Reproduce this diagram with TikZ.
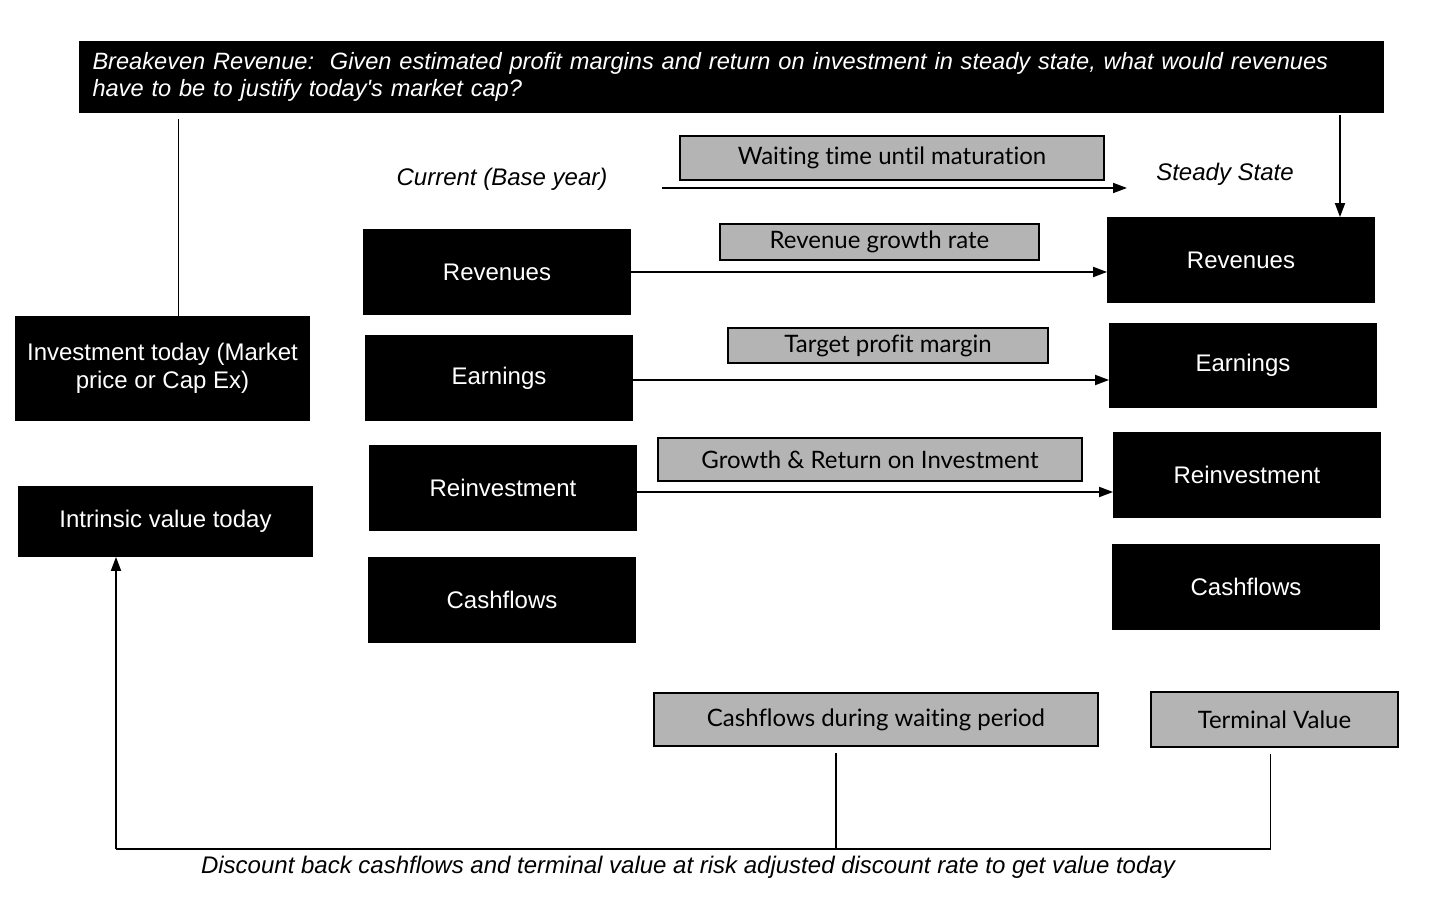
\documentclass[tikz,border=0pt]{standalone}
\usepackage{fontspec}
\setmainfont{Liberation Sans}
\newfontfamily\greyfont[Ligatures={NoCommon,NoContextual}]{Lato}
\usetikzlibrary{arrows.meta}
\definecolor{boxgrey}{HTML}{B4B4B4}
\tikzset{
  >={Triangle[length=7pt,width=5pt]},
  blackbox/.style={draw=black,fill=black,text=white,minimum width=133pt,minimum height=42pt,inner sep=2pt,font=\fontsize{12}{14}\selectfont},
  greybox/.style={draw=black,fill=boxgrey,line width=0.8pt,inner sep=1pt,font=\greyfont\fontsize{12}{14}\selectfont},
  note/.style={font=\itshape\fontsize{12}{14}\selectfont}
}
\begin{document}
\begin{tikzpicture}[x=0.5pt,y=-0.5pt,line width=0.9pt]
\useasboundingbox (0,0) rectangle (1448,908);
% header
\node[draw,fill=black,text=white,minimum width=651.5pt,minimum height=35pt,text width=639pt,inner xsep=6pt,inner ysep=2pt,align=left,font=\itshape\fontsize{11.8}{13.5}\selectfont] (title) at (731.5,77) {Breakeven Revenue:\ \ Given estimated profit margins and return on investment in steady state, what would revenues\\have to be to justify today\textquotesingle s market cap?};
\node[note] (cur) at (502,179) {Current (Base year)};
\node[note] (ss) at (1225,174) {Steady State};
\node[greybox,minimum width=212pt,minimum height=22pt] (wait) at (892,158) {Waiting time until maturation};
\coordinate (wS) at (662,188);
\coordinate (wE) at (1127,188);
\draw[->] (wS) -- (wE);
% left column
\node[blackbox,minimum width=146.5pt,minimum height=51.5pt,align=center] (inv) at (162.5,368.5) {Investment today (Market\\price or Cap Ex)};
\node[blackbox,minimum width=146.5pt,minimum height=34.5pt] (intr) at (165.5,521.5) {Intrinsic value today};
% base year
\node[blackbox] (lRev) at (497,272) {Revenues};
\node[blackbox] (lEarn) at (499,378) {Earnings};
\node[blackbox] (lReinv) at (503,488) {Reinvestment};
\node[blackbox] (lCash) at (502,600) {Cashflows};
% steady state
\node[blackbox] (rRev) at (1241,260) {Revenues};
\node[blackbox] (rEarn) at (1243,365.5) {Earnings};
\node[blackbox] (rReinv) at (1247,475) {Reinvestment};
\node[blackbox] (rCash) at (1246,587) {Cashflows};
% drivers
\node[greybox,minimum width=159.5pt,minimum height=18pt] (rgr) at (879.5,242) {Revenue growth rate};
\node[greybox,minimum width=160pt,minimum height=17.5pt] (tpm) at (888,345.5) {Target profit margin};
\node[greybox,minimum width=212pt,minimum height=21.5pt] (gri) at (870,459.5) {Growth \& Return on Investment};
\draw[->] (lRev.east) -- (lRev.east -| rRev.west);
\draw[->] ([yshift=-1pt]lEarn.east) -- ([yshift=-1pt]lEarn.east -| rEarn.west);
\draw[->] ([yshift=-2pt]lReinv.east) -- ([yshift=-2pt]lReinv.east -| rReinv.west);
% value
\node[greybox,minimum width=222pt,minimum height=26.5pt] (cwp) at (876,719.5) {Cashflows during waiting period};
\node[greybox,minimum width=123.5pt,minimum height=27.5pt] (tv) at (1274.5,719.5) {Terminal Value};
\node[note] (disc) at (688,867) {Discount back cashflows and terminal value at risk adjusted discount rate to get value today};
\draw[shorten <=3pt] ([xshift=8pt]inv.north |- title.south) -- ([xshift=8pt]inv.north);
\draw[->,shorten <=1pt] ([xshift=49.5pt]rRev.north |- title.south) -- ([xshift=49.5pt]rRev.north);
\coordinate (bL) at (116,849);
\draw[shorten <=3pt] ([xshift=-20pt]cwp.south) -- ([xshift=-20pt]cwp.south |- bL);
\draw[shorten <=3pt] ([xshift=-2pt]tv.south) -- ([xshift=-2pt]tv.south |- bL) -- (bL);
\draw[->] (bL) -- (bL |- intr.south);
\end{tikzpicture}
\end{document}
